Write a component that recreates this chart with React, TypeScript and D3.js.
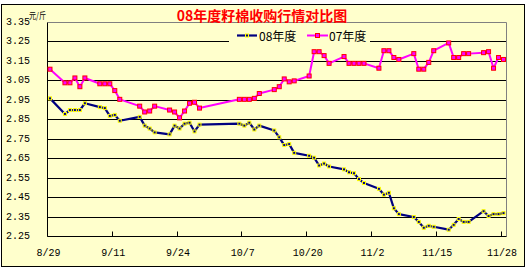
import React from "react";
import * as d3 from "d3";

const dates: string[] = [
  "2008-08-29","2008-09-01","2008-09-02","2008-09-03","2008-09-04","2008-09-05",
  "2008-09-08","2008-09-09","2008-09-10","2008-09-11","2008-09-12",
  "2008-09-16","2008-09-17","2008-09-18","2008-09-19",
  "2008-09-22","2008-09-23","2008-09-24","2008-09-25","2008-09-26","2008-09-27","2008-09-28",
  "2008-10-06","2008-10-07","2008-10-08","2008-10-09","2008-10-10",
  "2008-10-13","2008-10-14","2008-10-15","2008-10-16","2008-10-17",
  "2008-10-20","2008-10-21","2008-10-22","2008-10-23","2008-10-24",
  "2008-10-27","2008-10-28","2008-10-29","2008-10-30","2008-10-31",
  "2008-11-03","2008-11-04","2008-11-05","2008-11-06","2008-11-07",
  "2008-11-10","2008-11-11","2008-11-12","2008-11-13","2008-11-14",
  "2008-11-17","2008-11-18","2008-11-19","2008-11-20","2008-11-21",
  "2008-11-24","2008-11-25","2008-11-26","2008-11-27","2008-11-28",
];

const series08: number[] = [
  2.96, 2.88, 2.90, 2.90, 2.90, 2.935,
  2.915, 2.91, 2.87, 2.875, 2.845,
  2.865, 2.82, 2.805, 2.785,
  2.775, 2.82, 2.805, 2.83, 2.835, 2.79, 2.825,
  2.83, 2.82, 2.835, 2.80, 2.82,
  2.795, 2.76, 2.72, 2.725, 2.68,
  2.665, 2.655, 2.615, 2.625, 2.61,
  2.595, 2.58, 2.575, 2.545, 2.525,
  2.495, 2.465, 2.475, 2.395, 2.365,
  2.35, 2.325, 2.295, 2.305, 2.30,
  2.285, 2.31, 2.34, 2.325, 2.325,
  2.38, 2.355, 2.365, 2.365, 2.37,
];

const series07: number[] = [
  3.11, 3.04, 3.04, 3.065, 3.02, 3.065,
  3.035, 3.035, 3.035, 3.00, 2.955,
  2.92, 2.89, 2.895, 2.92,
  2.90, 2.89, 2.86, 2.895, 2.935, 2.94, 2.91,
  2.955, 2.955, 2.955, 2.96, 2.985,
  3.005, 3.02, 3.06, 3.045, 3.05,
  3.075, 3.20, 3.20, 3.18, 3.14,
  3.175, 3.14, 3.14, 3.14, 3.14,
  3.115, 3.205, 3.205, 3.17, 3.16,
  3.19, 3.11, 3.11, 3.145, 3.205,
  3.245, 3.17, 3.17, 3.19, 3.19,
  3.195, 3.20, 3.115, 3.17, 3.16,
];

const yTicks: number[] = [2.25, 2.35, 2.45, 2.55, 2.65, 2.75, 2.85, 2.95, 3.05, 3.15, 3.25, 3.35];
const xTickLabels: string[] = ["8/29", "9/11", "9/24", "10/7", "10/20", "11/2", "11/15", "11/28"];

const title = "08年度籽棉收购行情对比图";
const unitLabel = "元/斤";
const legend08 = "08年度";
const legend07 = "07年度";

const BG = "#FFFFCC";
const parse = d3.timeParse("%Y-%m-%d");

export default function App() {
  const W = 528, H = 270;
  const left = 47.5, right = 506, top = 22.5, bottom = 236.5;
  const x = d3.scaleTime()
    .domain([parse("2008-08-29")!, parse("2008-11-29")!])
    .range([left, right]);
  const y = d3.scaleLinear().domain([2.25, 3.35]).range([bottom, top]);
  const px = (s: string) => x(d3.timeHour.offset(parse(s)!, 12));
  const snap = (v: number) => Math.round(v - 0.5) + 0.5;

  const pts08 = dates.map((d, i) => [px(d), y(series08[i])] as [number, number]);
  const pts07 = dates.map((d, i) => [px(d), y(series07[i])] as [number, number]);
  const line = d3.line();

  const tickDates = xTickLabels.map((_, i) => d3.timeDay.offset(parse("2008-08-29")!, i * 13));
  const font = "'Liberation Mono', 'DejaVu Sans Mono', monospace";
  const cjk = "'Noto Sans CJK SC', sans-serif";

  const legendY = 35.5;

  return (
    <svg width={W} height={H} style={{ position: "absolute", left: 0, top: 0, background: "#fff" }}>
      <rect x={1.5} y={4.5} width={523} height={262} fill={BG} stroke="#000" strokeWidth={1} />
      <rect x={left} y={top} width={right - left} height={bottom - top} fill={BG} />
      {yTicks.slice(1, -1).map((t) => {
        const yy = snap(y(t));
        const isLegendRow = Math.abs(t - 3.25) < 1e-6;
        return isLegendRow ? (
          <g key={t}>
            <line x1={left} x2={229} y1={yy} y2={yy} stroke="#000" />
            <line x1={370} x2={right} y1={yy} y2={yy} stroke="#000" />
          </g>
        ) : (
          <line key={t} x1={left} x2={right} y1={yy} y2={yy} stroke="#000" />
        );
      })}
      <line x1={left} x2={snap(right)} y1={snap(top)} y2={snap(top)} stroke="#808080" />
      <line x1={snap(right)} x2={snap(right)} y1={snap(top)} y2={snap(bottom)} stroke="#808080" />
      <line x1={left} x2={left} y1={snap(top)} y2={snap(bottom)} stroke="#000" />
      <line x1={left} x2={snap(right)} y1={snap(bottom)} y2={snap(bottom)} stroke="#000" />
      {tickDates.map((d, i) => (
        <g key={i}>
          <line x1={snap(x(d))} x2={snap(x(d))} y1={snap(bottom)} y2={snap(bottom) - 5} stroke="#000" />
          <text x={x(d) + 1} y={253} textAnchor="middle" dominantBaseline="central"
            fontFamily={font} fontSize={10} fill="#000">{xTickLabels[i]}</text>
        </g>
      ))}
      {yTicks.map((t) => (
        <text key={t} x={30} y={y(t)} textAnchor="end" dominantBaseline="central"
          fontFamily={font} fontSize={10} fill="#000">{t.toFixed(2)}</text>
      ))}
      <path d={line(pts07)!} fill="none" stroke="#FF00FF" strokeWidth={2} strokeLinejoin="round" />
      {pts07.map((p, i) => (
        <rect key={i} x={p[0] - 2} y={p[1] - 2} width={4} height={4} fill="#FF00FF" stroke="#FF0000" strokeWidth={1} />
      ))}
      <path d={line(pts08)!} fill="none" stroke="#000080" strokeWidth={2.2} strokeLinejoin="round" />
      {pts08.map((p, i) => (
        <rect key={i} x={p[0] - 1.5} y={p[1] - 1.5} width={3} height={3} fill="#000080" stroke="#FFFF00" strokeWidth={1} />
      ))}
      <text x={262} y={14.5} textAnchor="middle" dominantBaseline="central" fontFamily={cjk}
        fontSize={14} fontWeight="bold" fill="#FF0000">{title}</text>
      <text x={29} y={15} dominantBaseline="central" fontFamily={cjk} fontSize={9} fill="#000"
        textLength={17} lengthAdjust="spacingAndGlyphs">{unitLabel}</text>
      <rect x={229} y={28} width={141} height={15} fill={BG} />
      <line x1={237} x2={257} y1={legendY} y2={legendY} stroke="#000080" strokeWidth={2.2} />
      <rect x={245.5} y={legendY - 1.5} width={3} height={3} fill="#000080" stroke="#FFFF00" strokeWidth={1} />
      <text x={259} y={legendY} dominantBaseline="central" fontFamily={cjk} fontSize={12} fill="#000">{legend08}</text>
      <line x1={307} x2={328} y1={legendY} y2={legendY} stroke="#FF00FF" strokeWidth={2} />
      <rect x={315.5} y={legendY - 2} width={4} height={4} fill="#FF00FF" stroke="#FF0000" strokeWidth={1} />
      <text x={329} y={legendY} dominantBaseline="central" fontFamily={cjk} fontSize={12} fill="#000">{legend07}</text>
    </svg>
  );
}
